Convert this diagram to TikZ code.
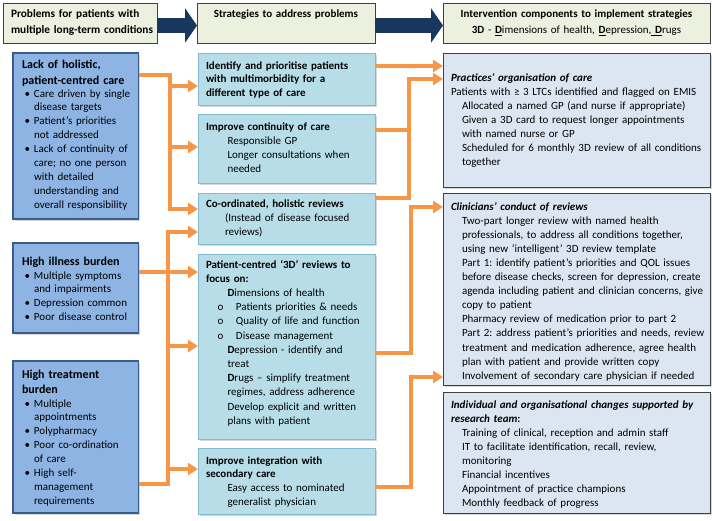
\documentclass[tikz,border=0pt]{standalone}
\usepackage{fontspec}
\setmainfont{Carlito}
\usetikzlibrary{arrows.meta,shadows}
\definecolor{hdrfill}{RGB}{236,240,222}
\definecolor{hdrline}{RGB}{64,64,64}
\definecolor{navy}{RGB}{23,55,94}
\definecolor{probfill}{RGB}{142,180,227}
\definecolor{probline}{RGB}{56,93,138}
\definecolor{stratfill}{RGB}{183,222,232}
\definecolor{stratline}{RGB}{130,185,205}
\definecolor{compfill}{RGB}{220,230,242}
\definecolor{compline}{RGB}{64,64,64}
\definecolor{arrorange}{RGB}{247,150,70}
\newcommand{\bul}{\makebox[12pt][l]{\hspace{2.5pt}•}}
\newcommand{\ind}{\hspace*{12pt}}
\newcommand{\mind}{\hspace*{21.5pt}}
\newcommand{\rind}{\hspace*{11pt}}
\newcommand{\circitem}{\hspace*{11.5pt}\makebox[18.5pt][l]{o}}
\begin{document}
\frenchspacing
\begin{tikzpicture}[x=1pt,y=-1pt,
  every node/.style={inner sep=0pt,outer sep=0pt},
  hdr/.style={draw=hdrline,fill=hdrfill,line width=0.9pt,anchor=north west},
  probbox/.style={draw=probline,fill=probfill,line width=1.4pt,anchor=north west,
    drop shadow={shadow xshift=1.5pt,shadow yshift=-1.5pt,opacity=0.3}},
  stratbox/.style={draw=stratline,fill=stratfill,line width=0.9pt,anchor=north west,
    drop shadow={shadow xshift=1.5pt,shadow yshift=-1.5pt,opacity=0.3}},
  compbox/.style={draw=compline,fill=compfill,line width=0.9pt,anchor=north west,
    drop shadow={shadow xshift=1.5pt,shadow yshift=-1.5pt,opacity=0.3}},
  txt/.style={anchor=base west,align=left,text width=300pt,execute at begin node=\frenchspacing},
  ctxt/.style={anchor=base,align=center,text width=260pt},
  conn/.style={draw=arrorange,line width=4pt,line join=miter,-{Triangle[length=10pt,width=12pt]}},
  connline/.style={draw=arrorange,line width=4pt,line join=miter},
  bigarrow/.style={draw=navy,line width=15pt,-{Triangle[length=12pt,width=34pt]}}
]
\useasboundingbox (0,0) rectangle (712,520);
\fill[white] (0,0) rectangle (712,520);

% header boxes
\node[hdr,minimum width=154pt,minimum height=40pt] (h1) at (3,3) {};
\node[hdr,minimum width=178pt,minimum height=40pt] (h2) at (197,3) {};
\node[hdr,minimum width=267pt,minimum height=40pt] (h3) at (443,3) {};
\node[txt,font=\fontsize{11.3}{16}\selectfont\bfseries] (h1t) at (11,17.5) {Problems for patients with\\multiple long-term conditions};
\node[ctxt,font=\fontsize{11}{16}\selectfont\bfseries] (h2t) at (286,17.5) {Strategies to address problems};
\node[ctxt,font=\fontsize{11}{16}\selectfont] (h3t) at (576.5,17.5) {\textbf{Intervention components to implement strategies}\\\textbf{3D} - \underline{\textbf{D}}imensions of health, \underline{\textbf{D}}epression,\underline{ \textbf{D}}rugs};
\draw[bigarrow] ([yshift=-2.5pt]h1.east) -- ([yshift=-2.5pt]h2.west);
\draw[bigarrow] ([yshift=-2.5pt]h2.east) -- ([yshift=-2.5pt]h3.west);

% problem boxes
\node[probbox,minimum width=125.5pt,minimum height=166pt] (L1) at (13,53) {};
\node[probbox,minimum width=125.5pt,minimum height=90pt] (L2) at (13,243) {};
\node[probbox,minimum width=125.5pt,minimum height=152pt] (L3) at (13,361) {};

% strategy boxes
\node[stratbox,minimum width=177pt,minimum height=52pt] (M1) at (198,53) {};
\node[stratbox,minimum width=177pt,minimum height=69pt] (M2) at (198,114) {};
\node[stratbox,minimum width=177pt,minimum height=51pt] (M3) at (198,193) {};
\node[stratbox,minimum width=177pt,minimum height=185pt] (M4) at (198,254) {};
\node[stratbox,minimum width=177pt,minimum height=66pt] (M5) at (198,448) {};

% component boxes
\node[compbox,minimum width=267pt,minimum height=134pt] (R1) at (443,53) {};
\node[compbox,minimum width=267pt,minimum height=192pt] (R2) at (443,193) {};
\node[compbox,minimum width=267pt,minimum height=121pt] (R3) at (443,392) {};

% problem texts
\node[txt,font=\fontsize{12}{16}\selectfont\bfseries] (L1h) at (22,68.5) {Lack of holistic,\\patient-centred care};
\node[txt,font=\fontsize{11}{13.9}\selectfont] (L1b) at (22,97) {\bul Care driven by single\\\ind disease targets\\\bul Patient’s priorities\\\ind not addressed\\\bul Lack of continuity of\\\ind care; no one person\\\ind with detailed\\\ind understanding and\\\ind overall responsibility};
\node[txt,font=\fontsize{12}{16}\selectfont\bfseries] (L2h) at (22,265) {High illness burden};
\node[txt,font=\fontsize{11}{13.7}\selectfont] (L2b) at (22,279) {\bul Multiple symptoms\\\ind and impairments\\\bul Depression common\\\bul Poor disease control};
\node[txt,font=\fontsize{12}{15}\selectfont\bfseries] (L3h) at (22,378) {High treatment\\burden};
\node[txt,font=\fontsize{11}{13.86}\selectfont] (L3b) at (22,407) {\bul Multiple\\\ind appointments\\\bul Polypharmacy\\\bul Poor co-ordination\\\ind of care\\\bul High self-\\\ind management\\\ind requirements};

% strategy texts
\node[txt,font=\fontsize{11}{13.5}\selectfont\bfseries] (M1t) at (206,69) {Identify and prioritise patients\\with multimorbidity for a\\different type of care};
\node[txt,font=\fontsize{11}{14}\selectfont] (M2t) at (206,130) {\textbf{Improve continuity of care}\\\mind Responsible GP\\\mind Longer consultations when\\\mind needed};
\node[txt,font=\fontsize{11}{14.3}\selectfont] (M3t) at (206,207) {\textbf{Co-ordinated, holistic reviews}\\\hspace*{19pt}(Instead of disease focused\\\hspace*{19pt}reviews)};
\node[txt,font=\fontsize{11}{14.2}\selectfont] (M4t) at (206,268) {\textbf{Patient-centred ‘3D’ reviews to}\\\textbf{focus on:}\\\mind\textbf{D}imensions of health\\\circitem Patients priorities \& needs\\\circitem Quality of life and function\\\circitem Disease management\\\mind\textbf{D}epression - identify and\\\mind treat\\\mind\textbf{D}rugs – simplify treatment\\\mind regimes, address adherence\\\mind Develop explicit and written\\\mind plans with patient};
\node[txt,font=\fontsize{11}{13.7}\selectfont] (M5t) at (206,464) {\textbf{Improve integration with}\\\textbf{secondary care}\\\mind Easy access to nominated\\\mind generalist physician};

% component texts
\node[txt,font=\fontsize{11}{14}\selectfont] (R1t) at (451,81) {\textbf{\textit{Practices’ organisation of care}}\\Patients with ≥ 3 LTCs identified and flagged on EMIS\\\rind Allocated a named GP (and nurse if appropriate)\\\rind Given a 3D card to request longer appointments\\\rind with named nurse or GP\\\rind Scheduled for 6 monthly 3D review of all conditions\\\rind together};
\node[txt,font=\fontsize{11}{14.1}\selectfont] (R2t) at (451,210) {\textbf{\textit{Clinicians’ conduct of reviews}}\\\rind Two-part longer review with named health\\\rind professionals, to address all conditions together,\\\rind using new ‘intelligent’ 3D review template\\\rind Part 1: identify patient’s priorities and QOL issues\\\rind before disease checks, screen for depression, create\\\rind agenda including patient and clinician concerns, give\\\rind copy to patient\\\rind Pharmacy review of medication prior to part 2\\\rind Part 2: address patient’s priorities and needs, review\\\rind treatment and medication adherence, agree health\\\rind plan with patient and provide written copy\\\rind Involvement of secondary care physician if needed};
\node[txt,font=\fontsize{11}{14.14}\selectfont] (R3t) at (451,408) {\textbf{\textit{Individual and organisational changes supported by}}\\\textbf{\textit{research team}:}\\\rind Training of clinical, reception and admin staff\\\rind IT to facilitate identification, recall, review,\\\rind monitoring\\\rind Financial incentives\\\rind Appointment of practice champions\\\rind Monthly feedback of progress};

% left connectors
\draw[conn] (L1.east |- 0,75) -- (170,75) -- (170,209) -- (M3.west |- 0,209);
\draw[conn] (170,86) -- (M1.west |- 0,86);
\draw[conn] (170,147) -- (M2.west |- 0,147);
\draw[conn] (L2.east |- 0,272) -- (M4.west |- 0,272);
\draw[conn] (L3.east |- 0,484) -- (168,484) -- (168,232) -- (M3.west |- 0,232);
\draw[conn] (168,346) -- (M4.west |- 0,346);
\draw[conn] (168,469) -- (M5.west |- 0,469);

% right connectors
\draw[conn] (M1.east |- 0,66) -- (R1.west |- 0,66);
\draw[connline] (M2.east |- 0,130) -- (409,130);
\draw[conn] (M3.east |- 0,198) -- (409,198) -- (409,79) -- (R1.west |- 0,79);
\draw[conn] (M4.east |- 0,353) -- (411,353) -- (411,207) -- (R2.west |- 0,207);
\draw[conn] (M5.east |- 0,487) -- (411,487) -- (411,377) -- (R2.west |- 0,377);
\end{tikzpicture}
\end{document}
